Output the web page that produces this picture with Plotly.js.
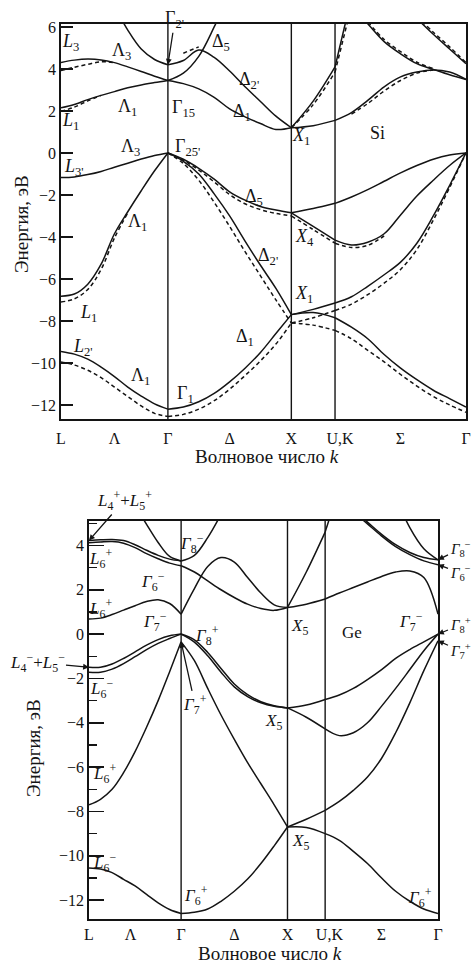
<!DOCTYPE html>
<html>
<head>
<meta charset="utf-8">
<script src="https://cdn.plot.ly/plotly-3.0.1.min.js"></script>
<style>
  html, body { margin: 0; padding: 0; background: #fff; overflow: hidden; }
  #chart { width: 473px; height: 967px; }
</style>
</head>
<body>
<div id="chart"></div>
<script>
// Path L – Γ – X – U,K – Γ, distances in units of 2π/a
const kSym = [0, 0.866, 1.866, 2.220, 3.281];
const kGrid = [0, 0.108, 0.217, 0.325, 0.433, 0.541, 0.650, 0.758, 0.866,
               0.991, 1.116, 1.241, 1.366, 1.491, 1.616, 1.741, 1.866,
               2.043, 2.220,
               2.353, 2.485, 2.618, 2.751, 2.883, 3.016, 3.148, 3.281];
const segments = [[0, 8], [8, 16], [16, 18], [18, 26]];
const tickNames = ['L', 'Λ', 'Γ', 'Δ', 'X', 'U,K', 'Σ', 'Γ'];
const tickPosSi = [0, 0.433, 0.866, 1.366, 1.866, 2.26, 2.75, 3.281];
const tickPosGe = [0, 0.39, 0.866, 1.366, 1.866, 2.26, 2.75, 3.281];

const _ = null;

// Si, nonlocal pseudopotential (solid), energies in eV on kGrid
const siSolid1 = [-9.45,-9.58,-9.82,-10.2,-10.65,-11.15,-11.58,-11.95,-12.2, -12.1,-11.85,-11.45,-10.9,-10.25,-9.5,-8.6,-7.7, -7.6,-7.85, -8.3,-8.85,-9.6,-10.25,-10.8,-11.3,-11.7,-12.1];
const siSolid2 = [-6.82,-6.72,-6.25,-5.3,-3.85,-2.8,-1.8,-0.85,0, -0.4,-1.0,-1.95,-3.0,-4.2,-5.35,-6.45,-7.7, -7.45,-7.15, -6.85,-6.35,-5.8,-5.2,-4.3,-3.0,-1.55,0];
const siSolid3 = [-1.17,-1.14,-1.03,-0.88,-0.68,-0.49,-0.29,-0.12,0, -0.3,-0.73,-1.25,-1.85,-2.25,-2.55,-2.72,-2.85, -2.65,-2.4, -2.1,-1.75,-1.35,-0.95,-0.6,-0.3,-0.1,0];
const siSolid4 = [_,_,_,_,_,_,_,_,_, _,_,_,_,_,_,_,-2.85, -3.5,-4.15, -4.38,-4.25,-3.85,-2.95,-2.05,-1.3,-0.6,0];
const siSolid5 = [2.15,2.31,2.54,2.74,2.92,3.1,3.24,3.35,3.45, 3.3,3.05,2.65,2.1,1.72,1.4,1.12,1.2, 1.3,1.55, 1.92,2.5,3.15,3.62,3.85,3.95,3.85,3.5];
const siSolid6 = [4.31,4.42,4.47,4.43,4.3,4.1,3.88,3.65,3.45, 3.8,4.6,6.0,7.6,_,_,_,_, _,_, _,_,_,_,_,_,_,_];
const siSolid7 = [_,_,_,_,7.0,5.85,4.95,4.45,4.2, 4.4,4.9,4.55,3.9,3.15,2.45,1.75,1.2, 2.47,4.1, 7.4,_,_,_,_,_,_,_];
const siSolid8 = [_,_,_,_,_,_,_,_,_, _,_,_,_,_,_,_,_, _,_, 7.0,6.15,5.3,4.72,4.25,3.98,3.72,3.5];
const siSolid9 = [_,_,_,_,_,_,_,_,_, _,_,_,_,_,_,_,_, _,_, _,_,_,_,6.4,5.65,4.95,4.25];

// Si, local pseudopotential (dashed), drawn where it departs from the solid curves
const siDash1 = [-9.95,-10.1,-10.35,-10.7,-11.15,-11.6,-12.05,-12.4,-12.55, -12.45,-12.2,-11.8,-11.25,-10.6,-9.9,-9.1,-8.1, -8.2,-8.45, -8.85,-9.4,-9.95,-10.55,-11.1,-11.6,-12.0,-12.35];
const siDash2 = [-7.1,-6.95,-6.5,-5.55,-4.05,-2.85,_,_,0, -0.5,-1.3,-2.35,-3.5,-4.7,-5.85,-7.0,-8.1, -7.85,-7.5, -7.2,-6.75,-6.2,-5.55,-4.6,-3.2,-1.65,0];
const siDash3 = [_,_,_,_,_,_,_,_,0, -0.35,-0.82,-1.38,-1.98,-2.42,-2.7,-2.88,-3.0, -3.65,-4.3, -4.5,-4.4,-3.95,_,_,_,_,_];
const siDash4 = [1.98,2.18,2.48,2.74,_,_,_,_,_, _,_,_,_,_,_,_,_, _,_, _,_,_,_,_,_,_,_];
const siDash5 = [3.92,4.08,4.22,4.34,4.3,_,_,_,_, _,_,_,_,_,_,_,_, _,_, _,_,_,_,_,_,_,_];
const siDash6 = [_,_,_,_,_,_,_,_,_, 4.75,5.05,_,_,_,_,_,_, _,_, _,_,_,_,_,_,_,_];
const siDash7 = [_,_,_,_,_,_,_,_,_, _,_,_,_,_,_,_,1.2, 2.3,3.85, 7.0,_,_,_,_,_,_,_];
const siDash8 = [_,_,_,_,_,_,_,_,_, _,_,_,_,_,_,_,_, _,_, 1.85,2.35,2.95,3.45,3.8,3.95,_,_];
const siDash9 = [_,_,_,_,_,_,_,_,_, _,_,_,_,_,_,_,_, _,_, _,6.25,5.4,4.82,4.32,4.02,_,_];
const siDash10 = [_,_,_,_,_,_,_,_,_, _,_,_,_,_,_,_,_, _,_, _,_,_,_,6.5,5.75,5.05,4.3];

// Ge with spin–orbit splitting, energies in eV on kGrid
const geBand1 = [-10.55,-10.6,-10.76,-11.06,-11.36,-11.74,-12.12,-12.42,-12.6, -12.55,-12.4,-12.05,-11.6,-11.05,-10.35,-9.55,-8.7, -8.72,-9.0, -9.3,-9.8,-10.35,-11.0,-11.6,-12.05,-12.4,-12.6];
const geBand2 = [-7.7,-7.45,-7.0,-6.25,-5.3,-4.2,-3.0,-1.7,-0.35, -1.2,-2.45,-3.65,-4.75,-5.8,-6.75,-7.7,-8.7, -8.35,-7.95, -7.55,-7.05,-6.45,-5.6,-4.45,-3.1,-1.65,-0.3];
const geBand3 = [-1.5,-1.5,-1.35,-1.1,-0.8,-0.5,-0.25,-0.08,0, -0.26,-0.83,-1.55,-2.25,-2.73,-3.05,-3.23,-3.33, -3.2,-2.95, -2.75,-2.45,-2.05,-1.6,-1.1,-0.7,-0.35,0];
const geBand4 = [-1.72,-1.72,-1.58,-1.33,-1.02,-0.7,-0.42,-0.2,0, -0.36,-0.98,-1.72,-2.38,-2.82,-3.1,-3.26,-3.33, -3.75,-4.28, -4.58,-4.45,-4.0,-3.25,-2.45,-1.6,-0.75,0];
const geBand5 = [0.68,0.72,0.88,1.08,1.28,1.47,1.55,1.38,0.9, 2.05,3.05,3.45,3.25,2.55,1.85,1.32,1.2, 1.35,1.58, 1.85,2.1,2.35,2.6,2.8,2.85,2.55,0.9];
const geBand6 = [4.12,4.15,4.17,4.1,3.9,3.63,3.4,3.2,3.08, 2.8,2.4,2.0,1.65,1.35,1.15,1.07,1.2, 2.8,4.6, 6.6,_,_,_,_,_,_,_];
const geBand7 = [4.22,4.25,4.27,4.22,4.03,3.78,3.55,3.38,3.3, 3.55,4.35,5.4,6.6,_,_,_,_, _,_, _,_,_,_,_,_,_,_];
const geBand8 = [_,_,_,_,5.8,4.95,4.13,3.5,3.3, _,_,_,_,_,_,_,_, _,_, _,_,_,_,_,_,_,_];
const geBand9 = [_,_,_,_,_,_,_,_,_, _,_,_,_,_,_,_,_, _,_, _,5.6,5.05,4.5,4.03,3.68,3.45,3.35];
const geBand10 = [_,_,_,_,_,_,_,_,_, _,_,_,_,_,_,_,_, _,_, _,5.52,4.97,4.42,3.94,3.58,3.3,3.13];
const geBand11 = [_,_,_,_,_,_,_,_,_, _,_,_,_,_,_,_,_, _,_, _,_,_,_,6.2,4.8,3.85,3.35];

const W = 473, H = 967;
const INK = '#141414';
const SERIF = '"Liberation Serif", "Times New Roman", serif';

// Split each band at the symmetry points so kinks there stay sharp
function bandTraces(values, xa, ya, dash) {
  const out = [];
  segments.forEach(([a, b]) => {
    let run = [];
    const flush = () => {
      if (run.length >= 2) {
        out.push({
          type: 'scatter', mode: 'lines',
          x: run.map(i => kGrid[i]), y: run.map(i => values[i]),
          xaxis: xa, yaxis: ya, hoverinfo: 'skip', showlegend: false,
          line: { color: INK, width: 1.5, shape: 'spline', smoothing: 1, dash: dash || 'solid' }
        });
      }
      run = [];
    };
    for (let i = a; i <= b; i++) {
      if (values[i] === null) flush(); else run.push(i);
    }
    flush();
  });
  return out;
}

const traces = [];
[siSolid1, siSolid2, siSolid3, siSolid4, siSolid5, siSolid6, siSolid7, siSolid8, siSolid9]
  .forEach(v => traces.push(...bandTraces(v, 'x', 'y')));
[siDash1, siDash2, siDash3, siDash4, siDash5, siDash6, siDash7, siDash8, siDash9, siDash10]
  .forEach(v => traces.push(...bandTraces(v, 'x', 'y', '4px,3px')));
[geBand1, geBand2, geBand3, geBand4, geBand5, geBand6, geBand7, geBand8, geBand9, geBand10, geBand11]
  .forEach(v => traces.push(...bandTraces(v, 'x2', 'y2')));

// Vertical lines through Γ, X and U,K
const shapes = [];
[['x', 'y'], ['x2', 'y2']].forEach(([xa, ya]) => {
  kSym.slice(1, 4).forEach(k => shapes.push({
    type: 'line', xref: xa, yref: ya + ' domain', x0: k, x1: k, y0: 0, y1: 1,
    line: { color: INK, width: 1.4 }
  }));
});

const P = (px, py) => ({ x: px / W, y: 1 - py / H });
function label(text, px, py, size, angle) {
  return Object.assign({
    xref: 'paper', yref: 'paper', text: text, showarrow: false,
    xanchor: 'center', yanchor: 'middle', textangle: angle || 0,
    font: { family: SERIF, size: size || 17, color: INK }
  }, P(px, py));
}
function arrowLabel(text, xa, ya, k, e, ax, ay, size) {
  return {
    xref: xa, yref: ya, x: k, y: e, ax: ax, ay: ay, text: text,
    showarrow: true, arrowhead: 2, arrowsize: 0.9, arrowwidth: 1.3, arrowcolor: INK,
    font: { family: SERIF, size: size || 17, color: INK }
  };
}

const siLabels = [
  ['<i>L</i><sub>3</sub>', 70, 42], ['Λ<sub>3</sub>', 121, 52], ['Δ<sub>5</sub>', 221, 43],
  ['Δ<sub>2\'</sub>', 249, 80], ['<i>L</i><sub>1</sub>', 70, 122], ['Λ<sub>1</sub>', 127, 107],
  ['Γ<sub>15</sub>', 183, 108], ['Δ<sub>1</sub>', 242, 112], ['<i>X</i><sub>1</sub>', 301, 137],
  ['Si', 377, 133], ['Λ<sub>3</sub>', 130, 148], ['Γ<sub>25\'</sub>', 187, 148],
  ['<i>L</i><sub>3\'</sub>', 74, 167], ['Δ<sub>5</sub>', 254, 197], ['Λ<sub>1</sub>', 137, 223],
  ['<i>X</i><sub>4</sub>', 304, 237], ['Δ<sub>2\'</sub>', 268, 256], ['<i>L</i><sub>1</sub>', 88, 313],
  ['<i>X</i><sub>1</sub>', 304, 295], ['<i>L</i><sub>2\'</sub>', 83, 347], ['Δ<sub>1</sub>', 245, 337],
  ['Λ<sub>1</sub>', 140, 376], ['Γ<sub>1</sub>', 185, 394]
];
const geLabels = [
  ['<i>L</i><sub>6</sub><sup>+</sup>', 100, 558], ['<i>Γ</i><sub>8</sub><sup>−</sup>', 192, 543],
  ['<i>Γ</i><sub>6</sub><sup>−</sup>', 153, 581], ['<i>L</i><sub>6</sub><sup>+</sup>', 100, 608],
  ['<i>Γ</i><sub>7</sub><sup>−</sup>', 155, 621], ['<i>Γ</i><sub>8</sub><sup>+</sup>', 207, 635],
  ['<i>X</i><sub>5</sub>', 299, 627], ['Ge', 352, 632], ['<i>Γ</i><sub>7</sub><sup>−</sup>', 411, 621],
  ['<i>L</i><sub>6</sub><sup>−</sup>', 101, 688], ['<i>X</i><sub>5</sub>', 273, 722],
  ['<i>L</i><sub>6</sub><sup>+</sup>', 104, 773], ['<i>L</i><sub>6</sub><sup>−</sup>', 104, 862],
  ['<i>X</i><sub>5</sub>', 300, 842], ['<i>Γ</i><sub>6</sub><sup>+</sup>', 196, 895],
  ['<i>Γ</i><sub>6</sub><sup>+</sup>', 420, 897]
];

const annotations = [];
siLabels.forEach(([t, x, y]) => annotations.push(label(t, x, y, 18)));
geLabels.forEach(([t, x, y]) => annotations.push(label(t, x, y, 17)));

// Arrowed labels pointing at band energies
annotations.push(arrowLabel('Γ<sub>2\'</sub>', 'x', 'y', kSym[1], siSolid7[8], 7, -45, 18));
annotations.push(arrowLabel('<i>L</i><sub>4</sub><sup>+</sup>+<i>L</i><sub>5</sub><sup>+</sup>', 'x2', 'y2', kSym[0], geBand7[0], 35, -40));
annotations.push(arrowLabel('<i>L</i><sub>4</sub><sup>−</sup>+<i>L</i><sub>5</sub><sup>−</sup>', 'x2', 'y2', kSym[0], geBand3[0], -52, -5));
annotations.push(arrowLabel('<i>Γ</i><sub>7</sub><sup>+</sup>', 'x2', 'y2', kSym[1], geBand2[8], 14, 63));
annotations.push(arrowLabel('<i>Γ</i><sub>8</sub><sup>−</sup>', 'x2', 'y2', kSym[4], geBand9[26], 22, -11, 15));
annotations.push(arrowLabel('<i>Γ</i><sub>6</sub><sup>−</sup>', 'x2', 'y2', kSym[4], geBand10[26], 22, 8, 15));
annotations.push(arrowLabel('<i>Γ</i><sub>8</sub><sup>+</sup>', 'x2', 'y2', kSym[4], geBand4[26], 22, -9, 15));
annotations.push(arrowLabel('<i>Γ</i><sub>7</sub><sup>+</sup>', 'x2', 'y2', kSym[4], geBand2[26], 22, 10, 15));

// Axis titles
annotations.push(label('Энергия, эВ', 22, 224, 19, -90));
annotations.push(label('Энергия, эВ', 33, 748, 19, -90));
annotations.push(label('Волновое число <i>k</i>', 267, 457, 19));
annotations.push(label('Волновое число <i>k</i>', 270, 953, 19));

const xBase = {
  range: [kSym[0], kSym[4]], showline: true, mirror: true, linecolor: INK, linewidth: 1.8,
  ticks: '', ticktext: tickNames, tickmode: 'array',
  tickfont: { family: SERIF, size: 16, color: INK },
  showgrid: false, zeroline: false, fixedrange: true
};
const yBase = {
  showline: true, mirror: true, linecolor: INK, linewidth: 1.8,
  ticks: 'inside', tickwidth: 1.6, tickcolor: INK, dtick: 2, tick0: 0,
  tickfont: { family: SERIF, size: 16, color: INK },
  showgrid: false, zeroline: false, fixedrange: true
};

const layout = {
  width: W, height: H, margin: { l: 0, r: 0, t: 0, b: 0 },
  paper_bgcolor: '#fff', plot_bgcolor: '#fff', showlegend: false,
  xaxis: Object.assign({}, xBase, { domain: [61 / W, 466 / W], anchor: 'y',
    tickvals: tickPosSi, ticklabelstandoff: 4 }),
  yaxis: Object.assign({}, yBase, { domain: [1 - 419 / H, 1 - 24 / H], anchor: 'x',
    range: [-12.67, 6.14], ticklen: 12 }),
  xaxis2: Object.assign({}, xBase, { domain: [89 / W, 438 / W], anchor: 'y2',
    tickvals: tickPosGe, ticklabelstandoff: 0 }),
  yaxis2: Object.assign({}, yBase, { domain: [1 - 919 / H, 1 - 521 / H], anchor: 'x2',
    range: [-12.85, 5.1], ticklen: 15,
    minor: { dtick: 1, ticks: 'inside', ticklen: 8, tickwidth: 1.4, tickcolor: INK } }),
  shapes: shapes,
  annotations: annotations
};

Plotly.newPlot('chart', traces, layout, { staticPlot: true, displayModeBar: false });
</script>
</body>
</html>
